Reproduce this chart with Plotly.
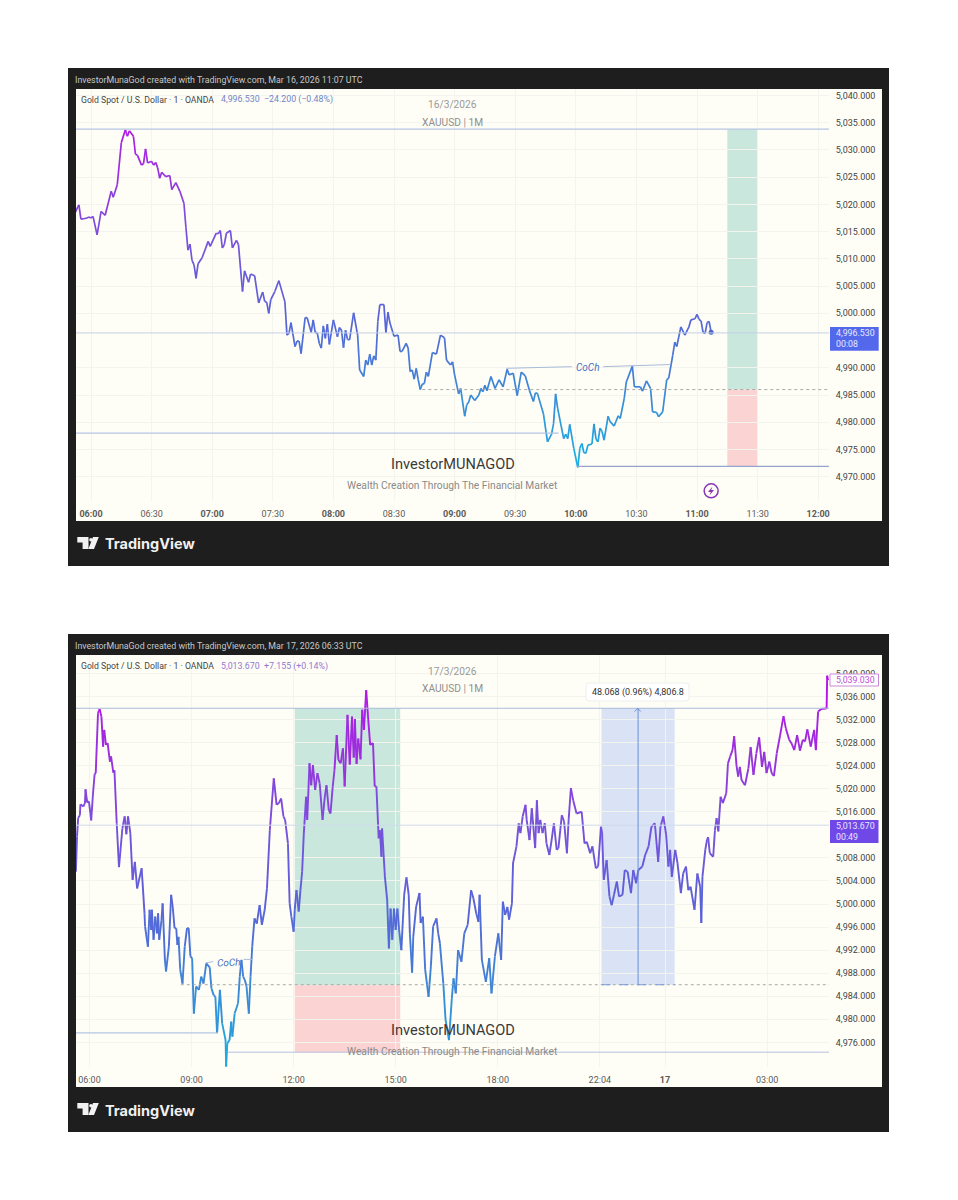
import plotly.graph_objects as go

# ---------- chart 1: 16/3/2026, minutes after 06:00 and price
minutes_a = [-8,-6,-5,-3,-2,-1,0,1,3,5,7,10,11,13,15,17,18,19,21,22,23,25,26,27,28,30,31,32,33,34,35,37,39,40,42,44,46,47,48,49,50,51,52,53,55,58,59,62,63,64,65,66,67,69,70,72,73,74,75,76,78,79,81,83,85,86,87,88,89,91,93,96,
97,98,99,101,102,103,104,106,107,109,110,111,112,113,114,115,116,117,118,120,122,123,124,125,126,127,128,130,132,133,135,136,137,138,139,140,141,142,143,145,146,147,148,150,152,153,154,156,157,158,159,160,161,162,163,164,165,166,167,169,171,173,175,176,178,179,180,182,183,185,186,187,188,190,192,193,194,195,
196,198,200,202,204,206,207,209,211,213,215,217,219,220,221,224,226,228,229,230,231,234,235,236,237,239,241,242,243,244,245,246,248,249,250,251,252,253,254,256,257,259,261,262,264,265,268,269,272,273,275,277,278,280,281,283,285,286,288,289,290,292,294,296,297,299,300,301,302,303,304,305,306,307]
price_a = [5018.4,5019.9,5017.3,5017.4,5017.5,5017.7,5017.5,5017.8,5014.4,5018.7,5018.0,5022.4,5021.3,5023.6,5031.3,5033.7,5032.5,5033.5,5032.5,5029.2,5029.0,5027.2,5027.5,5030.2,5027.6,5027.9,5027.2,5027.7,5026.7,5024.8,5025.9,5025.1,5025.3,5022.7,5024.0,5022.4,5020.2,5015.7,5011.6,5012.7,5009.7,5008.9,5006.4,5009.1,5010.2,5013.2,5012.3,5014.7,5014.6,5015.2,5012.0,5012.6,5014.7,5015.2,5012.0,5013.4,5012.6,5008.3,5004.0,5007.8,5005.7,5007.2,5006.9,5001.9,5003.9,5002.2,5002.0,5000.0,5002.5,5004.0,5006.0,5002.1,
4996.0,4996.3,4998.3,4993.9,4994.9,4994.9,4992.6,4999.2,4999.2,4996.5,4998.8,4996.5,4996.4,4994.5,4993.6,4997.7,4995.4,4998.0,4994.3,4998.8,4995.7,4997.4,4996.9,4993.7,4996.9,4995.2,4995.1,5000.1,4996.0,4989.6,4988.4,4991.4,4990.5,4992.5,4990.5,4992.2,4991.4,4998.5,5001.6,5001.6,4996.4,5000.2,4998.2,4995.8,4996.0,4993.0,4993.0,4994.5,4993.6,4989.3,4989.6,4987.9,4989.9,4987.8,4986.0,4987.0,4987.1,4989.2,4988.4,4992.8,4992.5,4996.0,4995.5,4991.4,4990.5,4991.1,4988.7,4985.2,4986.2,4981.1,4983.2,4983.7,4985.0,4984.0,4985.0,4986.2,4985.6,4986.8,
4985.8,4988.4,4986.2,4987.8,4986.5,4989.7,4988.7,4989.0,4984.9,4989.2,4988.5,4985.9,4983.8,4985.4,4985.3,4981.5,4976.4,4977.8,4979.8,4985.2,4982.6,4977.0,4977.8,4977.0,4979.6,4975.2,4971.7,4975.2,4976.1,4974.4,4974.3,4975.8,4976.0,4979.7,4976.9,4976.4,4978.9,4978.3,4976.7,4981.1,4980.1,4979.3,4981.2,4980.7,4984.4,4987.4,4990.3,4986.5,4986.5,4985.7,4987.6,4986.2,4981.9,4981.8,4981.0,4981.9,4987.8,4988.1,4992.3,4994.7,4993.9,4997.5,4996.0,4997.5,4998.8,4999.0,4999.8,4998.9,4998.6,4996.5,4996.3,4998.3,4998.5,4996.53]

# ---------- chart 2: 17/3/2026, one-minute bars after 06:00 and price
bars_b = [-24,-22,-20,-17,-16,-11,-8,-7,-4,-1,3,6,9,11,15,18,21,24,26,29,32,36,38,42,44,48,52,58,62,65,68,72,76,80,84,92,97,98,103,106,109,110,113,116,119,121,123,127,129,133,135,140,144,147,150,153,155,157,160,164,168,172,175,178,181,184,188,193,197,201,206,212,215,219,222,225,230,234,240,241,243,247,250,252,256,262,265,268,271,274,277,281,284,287,291,295,300,304,309,313,
318,325,330,334,338,342,345,350,353,356,360,362,365,369,372,375,378,382,384,388,391,394,398,402,406,411,415,418,422,425,429,432,436,439,443,447,450,455,459,463,466,468,471,474,478,481,484,488,491,495,500,503,506,510,512,515,516,521,525,528,531,534,537,540,543,546,550,
555,559,563,565,569,571,576,582,584,588,592,598,602,606,612,615,618,624,628,634,639,642,646,650,656,661,667,673,677,682,686,688,692,699,705,709,715,721,726,729,733,737,740,745,747,753,757,760,764,769,771,776,780,786,789,792,795,799,803,806,811,815,819,824,827,833,837,842,845,849,853,859,868,873,877,883,887,893,897,902,904,907,912,917,921,925,930,934,940,944,949,955,959,964,968,975,980,986,991,997,1003,1007,1012,1017,1021,1024,1027,1033,1037,1043,1047,1052,1056,1060,1067,1072,1077,
1079,1081,1086,1089,1091,1094,1100,1103,1106,1109,1113,1117,1123,1126,1130,1134,1137,1141,1144,1147,1150,1156,1162,1166,1171,1176,1181,1186,1190,1194,1199,1203,1207,1212,1218,1224,1228,1234,1238,1243,1248,1253,1258,1262,1266,1272,1278,1281,1285,1290,1297,1300,1301,1302,1303]
price_b = [5005.6,5011.7,5014.9,5015.4,5017.3,5016.9,5017.5,5019.9,5017.6,5017.8,5014.5,5018.9,5022.5,5022.7,5033.1,5033.8,5032.5,5027.3,5030.2,5027.6,5027.9,5024.7,5025.6,5022.8,5023.2,5014.0,5006.4,5013.1,5015.2,5012.1,5015.2,5012.3,5004.2,5007.3,5002.7,5006.2,4998.4,4996.1,4992.6,4999.0,4995.5,4999.0,4993.8,4997.8,4994.9,4998.4,4993.8,4997.2,5000.1,4990.3,4988.3,4992.6,5001.6,4999.3,4995.8,4995.8,4992.9,4994.3,4988.6,4986.2,4992.6,4995.8,4995.8,4990.9,4990.6,4981.0,4985.7,4985.1,4987.4,4986.2,4989.7,4989.0,4985.4,4984.2,4983.9,4977.6,4985.1,4979.3,4976.4,4971.8,4975.8,4976.4,4979.6,4977.0,4981.0,4982.8,4987.4,4990.3,4987.4,4986.8,4985.7,4981.0,4987.4,4992.6,4997.5,4996.6,4999.8,4996.4,4999.0,5002.7,
5012.8,5021.8,5017.2,5017.5,5018.3,5015.2,5014.6,5010.5,5000.1,4997.8,4995.2,4999.0,5002.4,4998.7,5002.4,5005.6,5012.3,5018.6,5014.6,5024.4,5020.6,5024.1,5019.8,5022.7,5020.9,5014.6,5018.6,5020.6,5016.3,5015.7,5020.4,5023.2,5029.3,5025.0,5024.4,5027.0,5020.4,5032.8,5024.2,5032.5,5025.4,5032.1,5024.3,5028.7,5025.1,5033.7,5030.2,5037.1,5032.8,5027.6,5027.9,5020.4,5020.4,5011.4,5012.8,5008.2,5013.1,5004.7,5000.7,4992.3,4999.2,4993.8,4999.2,4995.5,4999.2,4995.5,4992.0,
5001.6,5004.6,5001.6,4994.9,4988.1,4994.3,4999.5,5001.9,4996.7,4997.8,4988.6,4983.9,4989.1,4996.1,4997.5,4994.9,4993.2,4986.2,4979.9,4976.4,4983.6,4987.1,4984.5,4992.0,4990.0,4994.9,4996.4,5002.4,5001.0,4998.4,4996.9,5001.6,4990.3,4986.5,4990.6,4984.5,4990.9,4994.9,4990.3,5000.4,4998.1,4999.5,4997.3,5000.1,5007.1,5010.0,5014.0,5012.3,5015.2,5017.2,5014.6,5011.1,5016.6,5009.7,5018.0,5012.3,5014.6,5012.3,5014.0,5010.5,5008.5,5011.1,5014.0,5009.4,5009.7,5015.4,5014.3,5008.8,5014.6,5020.1,5018.0,5015.7,5016.0,5010.5,5010.8,5008.8,5010.0,5006.2,5006.5,5013.4,5012.3,5004.2,5007.6,5001.3,4999.8,5001.6,5003.9,5001.3,5001.6,5005.9,5005.6,5001.9,5005.9,5003.6,5005.9,5006.5,5008.5,5010.0,5013.4,5014.0,5007.3,5013.4,5015.2,5012.0,5006.5,5009.4,5004.7,5009.4,5007.1,5001.9,5005.3,5006.5,5002.4,5003.0,4999.0,5005.3,5003.0,
4996.7,5004.7,5009.4,5011.1,5011.6,5008.8,5008.2,5012.8,5014.9,5012.6,5018.6,5017.5,5019.2,5024.4,5025.6,5026.7,5029.1,5024.1,5022.1,5023.8,5021.5,5020.6,5023.5,5027.2,5022.4,5026.1,5028.9,5023.8,5026.4,5022.7,5024.7,5022.7,5022.2,5026.1,5029.3,5032.6,5030.5,5028.5,5027.9,5026.7,5029.3,5026.6,5028.5,5028.2,5030.3,5027.3,5030.2,5026.7,5033.4,5033.8,5033.9,5033.9,5039.6,5038.9,5039.03]

# ---------- axes (the ticks hidden behind the last-price tags are not labelled)
ticks_a_x = list(range(0, 361, 30))
labels_a_x = ["<b>06:00</b>","06:30","<b>07:00</b>","07:30","<b>08:00</b>","08:30","<b>09:00</b>","09:30","<b>10:00</b>","10:30","<b>11:00</b>","11:30","<b>12:00</b>"]
ticks_a_y = [4970,4975,4980,4985,4990,5000,5005,5010,5015,5020,5025,5030,5035,5040]
ticks_b_x = [0, 180, 360, 540, 720, 900, 1015, 1195]
labels_b_x = ["06:00","09:00","12:00","15:00","18:00","22:04","<b>17</b>","03:00"]
ticks_b_y = [4976,4980,4984,4988,4992,4996,5000,5004,5008,5016,5020,5024,5028,5032,5036,5040]

# ---------- drawing levels (price) and boxes (time)
top_a, last_a, entry_a, low_a, swing_a = 5033.8, 4996.4, 4986.0, 4971.9, 4978.0
box_a = [315, 330]
top_b, last_b, entry_b, low_b, swing_b = 5033.95, 5013.67, 4985.9, 4974.3, 4977.65
box_b = [362, 548]
range_b = [903, 1032]

stops = [(4972,(26,174,228)),(4985,(58,138,214)),(5000,(90,98,216)),(5015,(122,80,220)),(5025,(150,53,220)),(5037,(184,18,232))]

W, H = 942, 1180
px = lambda X: (X - 8) / W
py = lambda Y: 1 - (Y - 8) / H


def colour(p):
    if p <= stops[0][0]:
        return stops[0][1]
    for (a, ca), (b, cb) in zip(stops, stops[1:]):
        if p <= b:
            f = (p - a) / (b - a)
            return tuple(round(u + (v - u) * f) for u, v in zip(ca, cb))
    return stops[-1][1]


def add_line(fig, ts, ps, xa, ya, width):
    # one trace per colour band, so the price gradient is drawn along the line
    bins = {}
    for i in range(len(ts) - 1):
        mid = (ps[i] + ps[i + 1]) / 2
        key = int(mid // 2)
        bins.setdefault(key, ([], []))
        bins[key][0].extend([ts[i], ts[i + 1], None])
        bins[key][1].extend([ps[i], ps[i + 1], None])
    for key, (x, y) in sorted(bins.items()):
        c = colour(key * 2 + 1)
        fig.add_trace(go.Scatter(x=x, y=y, mode="lines", xaxis=xa, yaxis=ya, hoverinfo="skip", showlegend=False,
                                 line=dict(color=f"rgb{c}", width=width, shape="linear")))


fig = go.Figure()
add_line(fig, minutes_a, price_a, "x", "y", 1.7)
add_line(fig, bars_b, price_b, "x2", "y2", 1.9)

# last-price dot and session-break mark on chart 1
fig.add_trace(go.Scatter(x=[307], y=[4996.53], mode="markers", marker=dict(size=5, color="#4a62c8"), hoverinfo="skip", showlegend=False))
fig.add_trace(go.Scatter(x=[307], y=[4967.4], mode="markers", marker=dict(size=14, color="rgba(0,0,0,0)", line=dict(color="#8a35b8", width=1.5)), hoverinfo="skip", showlegend=False))

shapes, notes = [], []


def rect(x0, y0, x1, y1, fill, layer="below"):
    shapes.append(dict(type="rect", xref="paper", yref="paper", x0=px(x0), x1=px(x1), y0=py(y0), y1=py(y1),
                       fillcolor=fill, line=dict(width=0), layer=layer))


def path(points, fill, layer="above", close=True, line=None):
    d = "M" + " L".join(f"{px(a):.5f},{py(b):.5f}" for a, b in points) + (" Z" if close else "")
    shapes.append(dict(type="path", xref="paper", yref="paper", path=d, fillcolor=fill,
                       line=line or dict(width=0), layer=layer))


def rounded(x0, y0, x1, y1, r, fill, edge):
    p = lambda a, b: f"{px(a):.5f},{py(b):.5f}"
    d = (f"M{p(x0 + r, y0)} L{p(x1 - r, y0)} Q{p(x1, y0)} {p(x1, y0 + r)} L{p(x1, y1 - r)} Q{p(x1, y1)} {p(x1 - r, y1)} "
         f"L{p(x0 + r, y1)} Q{p(x0, y1)} {p(x0, y1 - r)} L{p(x0, y0 + r)} Q{p(x0, y0)} {p(x0 + r, y0)} Z")
    shapes.append(dict(type="path", xref="paper", yref="paper", path=d, fillcolor=fill, line=dict(color=edge, width=1), layer="above"))


def hline(x0, x1, y, xa, ya, color="#b4c6e2", width=1, dash="solid", layer="above"):
    shapes.append(dict(type="line", xref=xa, yref=ya, x0=x0, x1=x1, y0=y, y1=y,
                       line=dict(color=color, width=width, dash=dash), layer=layer))


def box(x0, x1, y0, y1, xa, ya, fill):
    shapes.append(dict(type="rect", xref=xa, yref=ya, x0=x0, x1=x1, y0=y0, y1=y1,
                       fillcolor=fill, line=dict(width=0), layer="below"))


def text(x, y, s, size=9, color="#444", anchor="left", family="Roboto", angle=0):
    notes.append(dict(xref="paper", yref="paper", x=px(x - 1.5 if anchor == "left" else x), y=py(y), text=s, showarrow=False, xanchor=anchor,
                      yanchor="middle", align=anchor, textangle=angle,
                      font=dict(size=size, color=color, family=family), borderpad=0))


def logo(base):
    path([(77.3, base), (88.5, base), (88.5, base + 12), (82.6, base + 12), (82.6, base + 5.6), (77.3, base + 5.6)], "#f2f2f2", "below")
    path([(93, base), (98.8, base), (94, base + 12), (88.4, base + 12)], "#f2f2f2", "below")
    shapes.append(dict(type="circle", xref="paper", yref="paper", x0=px(89.2), x1=px(92.8), y0=py(base + 1), y1=py(base + 4.6),
                       fillcolor="#f2f2f2", line=dict(width=0), layer="below"))


# panels
for top in (68, 634):
    rect(68, top, 889, top + 498, "#1e1e1e")
    rect(76, top + 21, 882, top + 453, "#fffef6")
    logo(top + 469)
    text(105.5, top + 476, "<b>TradingView</b>", size=14.5, color="#f0f0f0", family="Inter")

# chart 1 drawings
box(box_a[0], box_a[1], entry_a, top_a, "x", "y", "#c9e7dd")
box(box_a[0], box_a[1], low_a, entry_a, "x", "y", "#fbd3d2")
hline(-7.43, 365.3, top_a, "x", "y", "#b4c6e2", 1.2)
hline(-7.43, 365.3, last_a, "x", "y", "#c4d0e6", 1)
hline(-7.43, 231.5, swing_a, "x", "y", "#b4c6e2", 1.2)
hline(164, 365.3, entry_a, "x", "y", "#a8a8a8", 1, "dot")
hline(240.5, 365.3, low_a, "x", "y", "#94a4cc", 1.2)
shapes.append(dict(type="line", xref="x", yref="y", x0=205.5, x1=238, y0=4989.9, y1=4990.2, line=dict(color="#a9bbd8", width=1)))
shapes.append(dict(type="line", xref="x", yref="y", x0=253.5, x1=287, y0=4990.2, y1=4990.6, line=dict(color="#a9bbd8", width=1)))
path([(712.5, 486.5), (708, 492), (710.8, 492), (709.5, 495.5), (714, 490), (711.2, 490)], "#8a35b8")

# chart 2 drawings
box(box_b[0], box_b[1], entry_b, top_b, "x2", "y2", "#c9e7dd")
box(box_b[0], box_b[1], low_b, entry_b, "x2", "y2", "#fbd3d2")
box(range_b[0], range_b[1], 4986.0, top_b, "x2", "y2", "#d9e3f5")
hline(-23.8, 1304.2, top_b, "x2", "y2", "#a9bbd8", 1)
hline(-23.8, 1304.2, last_b, "x2", "y2", "#d0daec", 1)
hline(-23.8, 226, swing_b, "x2", "y2", "#b4c6e2", 1.2)
hline(161, 1304.2, 4986.0, "x2", "y2", "#a8a8a8", 1, "dot")
hline(244, 1304.2, low_b, "x2", "y2", "#b4c0e0", 1)
hline(range_b[0], range_b[1], 4986.0, "x2", "y2", "#7d9ad6", 1, "dash")
shapes.append(dict(type="line", xref="x2", yref="y2", x0=967.5, x1=967.5, y0=4986.0, y1=top_b, line=dict(color="#6d8fd2", width=1)))
shapes.append(dict(type="line", xref="x2", yref="y2", x0=205, x1=218, y0=4989.8, y1=4990.0, line=dict(color="#a9bbd8", width=1)))
shapes.append(dict(type="line", xref="x2", yref="y2", x0=272, x1=286.6, y0=4990.4, y1=4990.4, line=dict(color="#a9bbd8", width=1)))
path([(634.7, 711.5), (637.7, 708.4), (640.7, 711.5)], "rgba(0,0,0,0)", "above", False, dict(color="#6d8fd2", width=1))

# price labels
rect(830, 327, 878.7, 350.7, "#5468ec", "above")
rect(830, 820, 878.5, 843, "#7048e8", "above")
rect(830, 674, 878.5, 686, "#ffffff", "above")
shapes.append(dict(type="rect", xref="paper", yref="paper", x0=px(830), x1=px(878.5), y0=py(674), y1=py(686),
                   fillcolor="rgba(0,0,0,0)", line=dict(color="#c88ad8", width=1), layer="above"))

# measurement tooltip
rounded(586, 683, 689, 701, 3, "#ffffff", "#eeeeee")

# texts
text(75, 80, "InvestorMunaGod created with TradingView.com, Mar 16, 2026 11:07 UTC", 8.8, "#c8c8c8")
text(75, 646, "InvestorMunaGod created with TradingView.com, Mar 17, 2026 06:33 UTC", 8.8, "#c8c8c8")
text(81.5, 100, "Gold Spot / U.S. Dollar · 1 · OANDA", 8.7, "#454545")
text(81.5, 666, "Gold Spot / U.S. Dollar · 1 · OANDA", 8.7, "#454545")
text(221, 100, "4,996.530 &nbsp;−24.200 (−0.48%)", 8.8, "#7085c8")
text(221, 666, "5,013.670 &nbsp;+7.155 (+0.14%)", 8.8, "#9078d4")
text(452.5, 105, "16/3/2026", 10.2, "#9a9a9a", "center")
text(452.5, 122, "XAUUSD | 1M", 10.2, "#8f8f8f", "center")
text(452.5, 671, "17/3/2026", 10.2, "#9a9a9a", "center")
text(452.5, 688, "XAUUSD | 1M", 10.2, "#8f8f8f", "center")
text(452.5, 464, "InvestorMUNAGOD", 14.6, "#3a3a3a", "center")
text(451.5, 485, "Wealth Creation Through The Financial Market", 10.25, "#8a8a8a", "center")
text(452.5, 1030, "InvestorMUNAGOD", 14.6, "#3a3a3a", "center")
text(451.5, 1051, "Wealth Creation Through The Financial Market", 10.25, "#8a8a8a", "center")
text(588, 367.5, "<i>CoCh</i>", 10, "#4a6fc0", "center")
text(229, 962, "<i>CoCh</i>", 10, "#4a6fc0", "center", angle=-3)
text(637.5, 692, "48.068 (0.96%) 4,806.8", 9, "#333333", "center")
text(836, 338.5, "4,996.530<br>00:08", 8.8, "#e4e8ff")
text(836, 831.5, "5,013.670<br>00:49", 8.8, "#ebe5ff")
text(836, 680, "5,039.030", 8.8, "#c050d8")

axis_common = dict(showline=False, zeroline=False, gridcolor="#f4f4ee", gridwidth=1, ticks="outside",
                   tickcolor="rgba(0,0,0,0)", tickfont=dict(family="Roboto", size=9, color="#444"))
x_font = dict(family="Roboto", size=9, color="#5a5a5a")

fig.update_layout(
    width=W, height=H, autosize=False,
    margin=dict(l=0, r=0, t=0, b=0, pad=0),
    paper_bgcolor="#ffffff", plot_bgcolor="rgba(0,0,0,0)", showlegend=False,
    shapes=shapes, annotations=notes,
    xaxis=dict(domain=[px(76), px(829)], range=[-7.43, 365.35], anchor="y", tickvals=ticks_a_x, ticktext=labels_a_x, ticklen=4, **{**axis_common, "tickfont": x_font}),
    yaxis=dict(domain=[py(501), py(89)], range=[4965.54, 5041.18], anchor="x", side="right", tickvals=ticks_a_y, ticktext=[f"{v:,}.000" for v in ticks_a_y], ticklen=4, **axis_common),
    xaxis2=dict(domain=[px(76), px(829)], range=[-23.8, 1304.2], anchor="y2", tickvals=ticks_b_x, ticktext=labels_b_x, ticklen=4, **{**axis_common, "tickfont": x_font}),
    yaxis2=dict(domain=[py(1067), py(655)], range=[4971.73, 5043.19], anchor="x2", side="right", tickvals=ticks_b_y, ticktext=[f"{v:,}.000" for v in ticks_b_y], ticklen=4, **axis_common),
)

fig.write_html("out.html")
